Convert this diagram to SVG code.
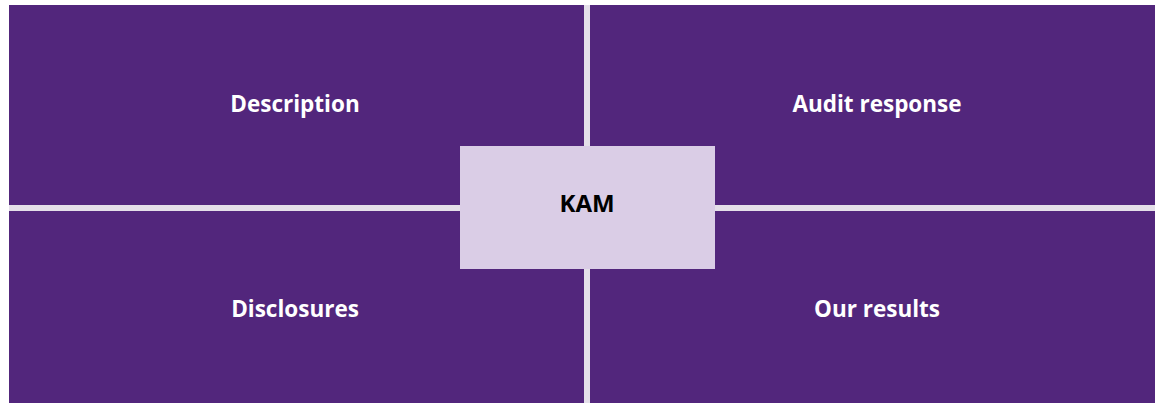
<svg xmlns="http://www.w3.org/2000/svg" width="1155" height="403" viewBox="0 0 1155 403">
<style>
.q{fill:#52267c}
.gap{fill:#e4dfe9}
.lbl{font-family:"Open Sans",Lato,sans-serif;font-weight:bold;font-size:22.5px;fill:#ffffff;text-anchor:middle}
.kam{font-family:"Open Sans",Lato,sans-serif;font-weight:bold;font-size:24px;fill:#000000;text-anchor:middle}
</style>
<rect width="1155" height="403" fill="#ffffff"/>
<g id="description"><rect class="q" x="9" y="5" width="575" height="200"/><text class="lbl" x="295" y="112">Description</text></g>
<g id="audit-response"><rect class="q" x="590" y="5" width="565" height="200"/><text class="lbl" x="877" y="112">Audit response</text></g>
<g id="disclosures"><rect class="q" x="9" y="211" width="575" height="192"/><text class="lbl" x="295" y="317">Disclosures</text></g>
<g id="our-results"><rect class="q" x="590" y="211" width="565" height="192"/><text class="lbl" x="877" y="317">Our results</text></g>
<g id="connectors"><rect class="gap" x="584" y="5" width="6" height="398"/><rect class="gap" x="9" y="205" width="1146" height="6"/></g>
<g id="kam"><rect x="460" y="146" width="255" height="123" fill="#dacde6"/><text class="kam" x="587" y="212">KAM</text></g>
</svg>
